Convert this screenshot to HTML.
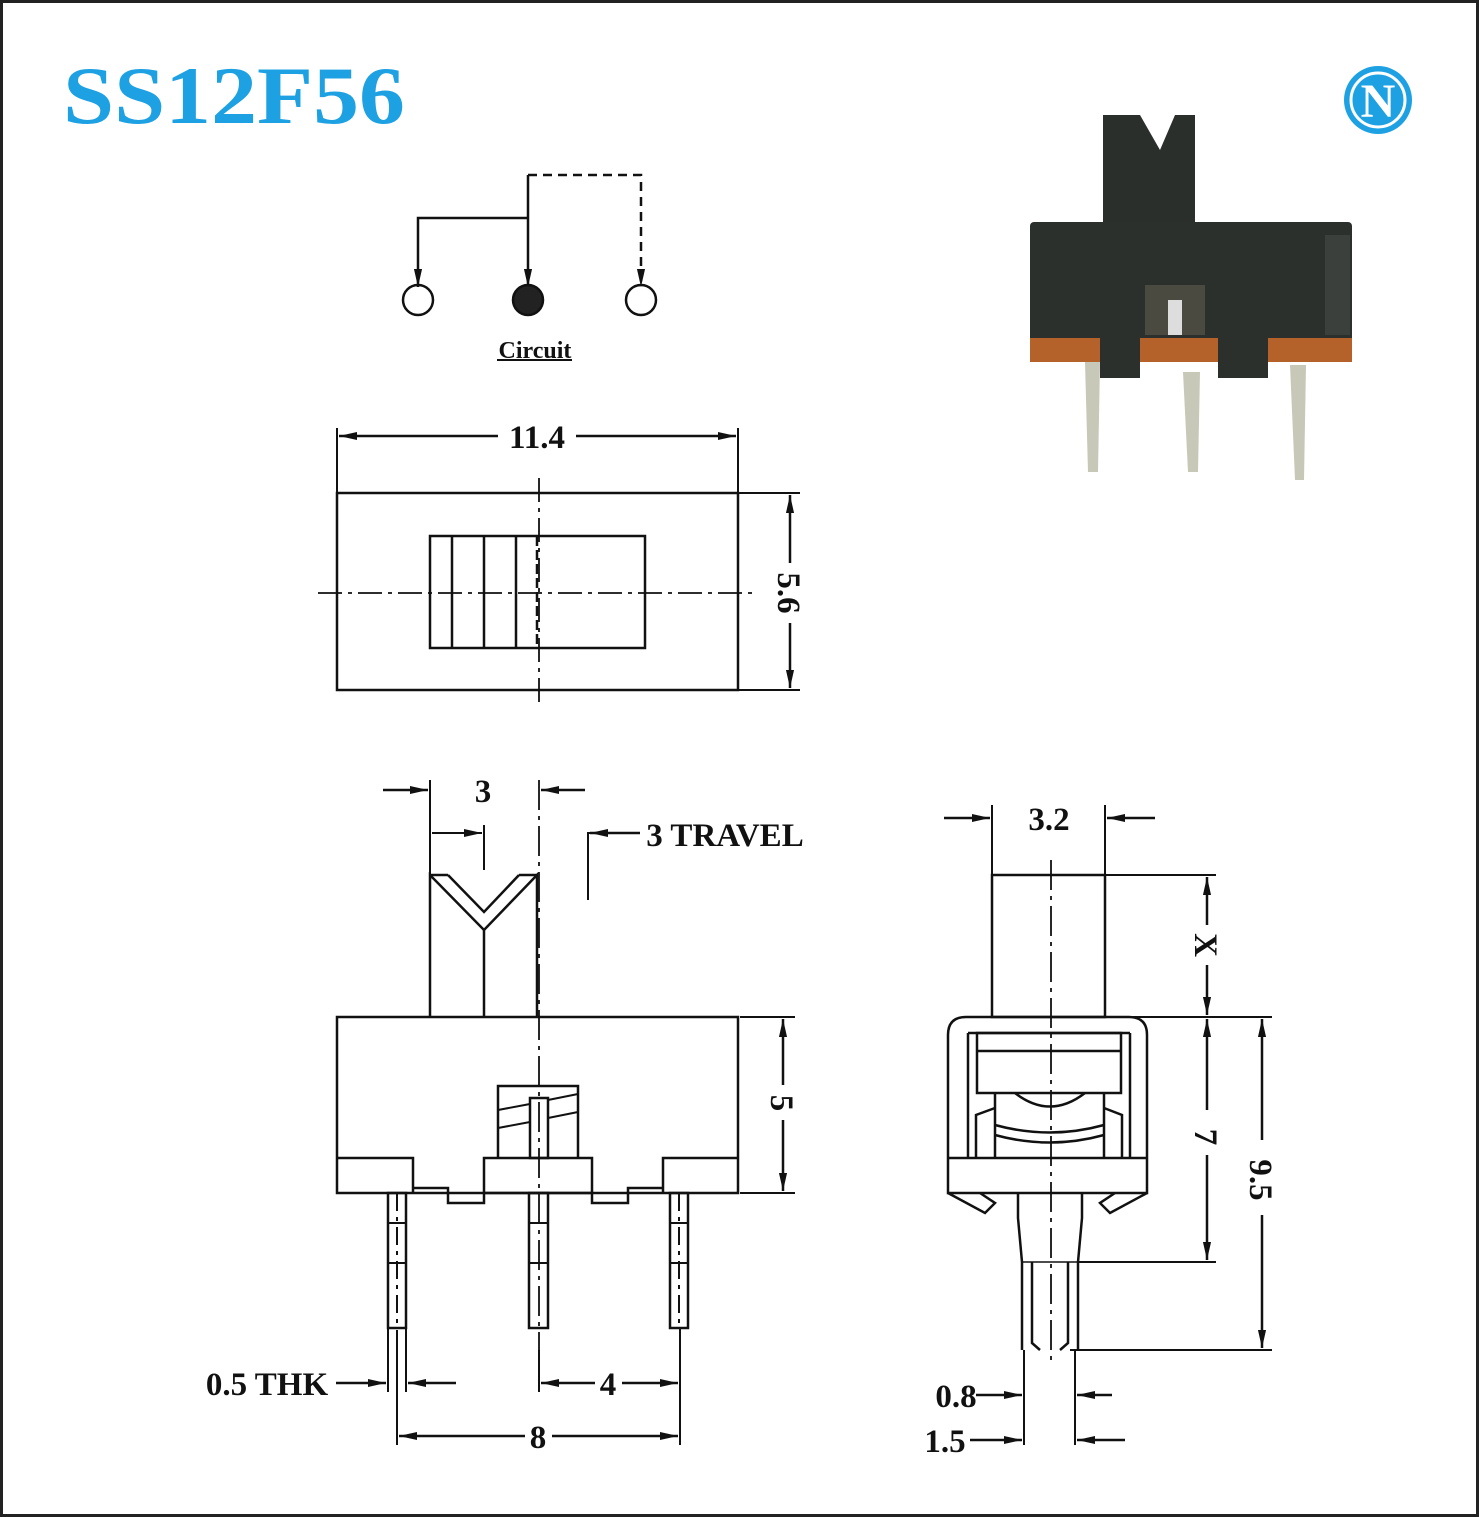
<!DOCTYPE html>
<html><head><meta charset="utf-8"><style>
html,body{margin:0;padding:0;background:#fff}
svg{display:block}
text{font-family:"Liberation Serif",serif}
</style></head><body>
<svg width="1479" height="1517" viewBox="0 0 1479 1517" xmlns="http://www.w3.org/2000/svg">
<defs>
<marker id="a" viewBox="0 0 20 10" refX="20" refY="5" markerWidth="22" markerHeight="9" markerUnits="userSpaceOnUse" orient="auto-start-reverse"><path d="M0,0.5 L20,5 L0,9.5 z" fill="#111"/></marker>
</defs>
<rect x="1.5" y="1.5" width="1476" height="1514" fill="#fff" stroke="#222" stroke-width="3"/>
<text x="63" y="123" font-size="82" font-weight="bold" fill="#1ea1e2" textLength="342" lengthAdjust="spacingAndGlyphs">SS12F56</text>
<circle cx="1378" cy="100" r="34" fill="#1ea1e2"/>
<circle cx="1378" cy="100" r="27" fill="none" stroke="#fff" stroke-width="3"/>
<text x="1378" y="117" font-size="48" font-weight="bold" fill="#fff" text-anchor="middle">N</text>

<g stroke="#111" stroke-width="2.5" fill="none">
<!-- circuit -->
<polyline points="418,287 418,218 528,218" marker-start="url(#a)"/>
<line x1="528" y1="175" x2="528" y2="287" marker-end="url(#a)"/>
<polyline points="528,175 641,175 641,287" stroke-dasharray="9,6" marker-end="url(#a)"/>
<circle cx="418" cy="300" r="15"/>
<circle cx="528" cy="300" r="15" fill="#222"/>
<circle cx="641" cy="300" r="15"/>
<line x1="497" y1="360" x2="572" y2="360" stroke-width="2"/>

<!-- top view -->
<rect x="337" y="493" width="401" height="197"/>
<rect x="430" y="536" width="215" height="112"/>
<line x1="452" y1="536" x2="452" y2="648"/>
<line x1="484" y1="536" x2="484" y2="648"/>
<line x1="516" y1="536" x2="516" y2="648"/>
<line x1="537" y1="536" x2="537" y2="648" stroke-dasharray="10,4"/>
<line x1="318" y1="593" x2="756" y2="593" stroke-width="1.8" stroke-dasharray="24,6,4,6"/>
<line x1="539" y1="478" x2="539" y2="705" stroke-width="1.8" stroke-dasharray="24,6,4,6"/>
<line x1="337" y1="428" x2="337" y2="493" stroke-width="2"/>
<line x1="738" y1="428" x2="738" y2="493" stroke-width="2"/>
<line x1="498" y1="436" x2="339" y2="436" marker-end="url(#a)"/>
<line x1="576" y1="436" x2="736" y2="436" marker-end="url(#a)"/>
<line x1="738" y1="493" x2="800" y2="493" stroke-width="2"/>
<line x1="738" y1="690" x2="800" y2="690" stroke-width="2"/>
<line x1="790" y1="563" x2="790" y2="495" marker-end="url(#a)"/>
<line x1="790" y1="623" x2="790" y2="688" marker-end="url(#a)"/>

<!-- front view -->
<rect x="337" y="1017" width="401" height="176"/>
<polyline points="430,1017 430,875 484,930 537,875 537,1017"/>
<polyline points="448,875 484,912 519,875"/>
<line x1="430" y1="875" x2="448" y2="875"/><line x1="519" y1="875" x2="537" y2="875"/>
<line x1="484" y1="930" x2="484" y2="1017"/>
<polyline points="337,1158 413,1158 413,1193"/>
<polyline points="738,1158 663,1158 663,1193"/>
<rect x="484" y="1158" width="108" height="35"/>
<polyline points="413,1188 448,1188 448,1203 484,1203 484,1193"/>
<polyline points="592,1193 592,1203 628,1203 628,1188 663,1188"/>
<polyline points="498,1158 498,1086 578,1086 578,1158"/>
<rect x="530" y="1098" width="18" height="60"/>
<line x1="498" y1="1110" x2="530" y2="1104" stroke-width="2"/><line x1="548" y1="1100" x2="578" y2="1094" stroke-width="2"/>
<line x1="498" y1="1128" x2="530" y2="1122" stroke-width="2"/><line x1="548" y1="1118" x2="578" y2="1112" stroke-width="2"/>
<rect x="388" y="1193" width="18" height="135"/>
<rect x="529" y="1193" width="19" height="135"/>
<rect x="670" y="1193" width="18" height="135"/>
<g stroke-width="2"><line x1="388" y1="1223" x2="406" y2="1223"/><line x1="388" y1="1263" x2="406" y2="1263"/>
<line x1="529" y1="1223" x2="548" y2="1223"/><line x1="529" y1="1263" x2="548" y2="1263"/>
<line x1="670" y1="1223" x2="688" y2="1223"/><line x1="670" y1="1263" x2="688" y2="1263"/>
<line x1="397" y1="1193" x2="397" y2="1328" stroke-dasharray="18,6,4,6"/>
<line x1="679" y1="1193" x2="679" y2="1328" stroke-dasharray="18,6,4,6"/></g>
<line x1="539" y1="780" x2="539" y2="1350" stroke-width="1.8" stroke-dasharray="30,6,4,6"/>
<line x1="430" y1="780" x2="430" y2="875" stroke-width="2"/>
<line x1="383" y1="790" x2="428" y2="790" marker-end="url(#a)"/>
<line x1="585" y1="790" x2="541" y2="790" marker-end="url(#a)"/>
<line x1="432" y1="833" x2="482" y2="833" stroke-width="2" marker-end="url(#a)"/>
<line x1="484" y1="825" x2="484" y2="870" stroke-width="2"/>
<polyline points="588,900 588,833 640,833" stroke-width="2"/>
<line x1="640" y1="833" x2="590" y2="833" marker-end="url(#a)"/>
<line x1="740" y1="1017" x2="795" y2="1017" stroke-width="2"/>
<line x1="740" y1="1193" x2="795" y2="1193" stroke-width="2"/>
<line x1="783" y1="1085" x2="783" y2="1019" marker-end="url(#a)"/>
<line x1="783" y1="1120" x2="783" y2="1191" marker-end="url(#a)"/>
<g stroke-width="2">
<line x1="388" y1="1328" x2="388" y2="1392"/><line x1="406" y1="1328" x2="406" y2="1392"/>
<line x1="397" y1="1330" x2="397" y2="1445"/><line x1="680" y1="1328" x2="680" y2="1445"/>
<line x1="539" y1="1350" x2="539" y2="1392"/></g>
<line x1="336" y1="1383" x2="386" y2="1383" marker-end="url(#a)"/>
<line x1="456" y1="1383" x2="408" y2="1383" marker-end="url(#a)"/>
<line x1="595" y1="1383" x2="541" y2="1383" marker-end="url(#a)"/>
<line x1="622" y1="1383" x2="678" y2="1383" marker-end="url(#a)"/>
<line x1="525" y1="1436" x2="399" y2="1436" marker-end="url(#a)"/>
<line x1="552" y1="1436" x2="678" y2="1436" marker-end="url(#a)"/>

<!-- side view -->
<rect x="992" y="875" width="113" height="142"/>
<path d="M966,1017 H1129 Q1147,1017 1147,1035 V1193 H948 V1035 Q948,1017 966,1017 Z"/>
<line x1="948" y1="1158" x2="1147" y2="1158"/>
<line x1="968" y1="1033" x2="968" y2="1158"/><line x1="1130" y1="1033" x2="1130" y2="1158"/>
<line x1="968" y1="1033" x2="1130" y2="1033"/>
<rect x="977" y="1033" width="144" height="60"/>
<line x1="977" y1="1051" x2="1121" y2="1051"/>
<line x1="995" y1="1093" x2="995" y2="1158"/><line x1="1104" y1="1093" x2="1104" y2="1158"/>
<polyline points="976,1158 976,1115 995,1108"/><polyline points="1122,1158 1122,1115 1104,1108"/>
<path d="M1015,1093 Q1050,1120 1085,1093"/>
<path d="M995,1125 Q1050,1140 1104,1125"/>
<path d="M995,1135 Q1050,1150 1104,1135"/>
<polyline points="948,1193 985,1213 995,1203 980,1193"/>
<polyline points="1147,1193 1110,1213 1100,1203 1115,1193"/>
<polyline points="1018,1193 1018,1218 1022,1262 1022,1350"/>
<polyline points="1082,1193 1082,1218 1078,1262 1078,1350"/>
<polyline points="1032,1262 1032,1343 1040,1350"/>
<polyline points="1068,1262 1068,1343 1060,1350"/>
<line x1="1022" y1="1262" x2="1078" y2="1262" stroke-width="1.5"/>
<line x1="1051" y1="860" x2="1051" y2="1360" stroke-width="1.8" stroke-dasharray="30,6,4,6"/>
<line x1="992" y1="805" x2="992" y2="875" stroke-width="2"/><line x1="1105" y1="805" x2="1105" y2="875" stroke-width="2"/>
<line x1="944" y1="818" x2="990" y2="818" marker-end="url(#a)"/>
<line x1="1155" y1="818" x2="1107" y2="818" marker-end="url(#a)"/>
<line x1="1105" y1="875" x2="1216" y2="875" stroke-width="2"/>
<line x1="1130" y1="1017" x2="1272" y2="1017" stroke-width="2"/>
<line x1="1078" y1="1262" x2="1216" y2="1262" stroke-width="2"/>
<line x1="1070" y1="1350" x2="1272" y2="1350" stroke-width="2"/>
<line x1="1207" y1="925" x2="1207" y2="877" marker-end="url(#a)"/>
<line x1="1207" y1="965" x2="1207" y2="1015" marker-end="url(#a)"/>
<line x1="1207" y1="1110" x2="1207" y2="1019" marker-end="url(#a)"/>
<line x1="1207" y1="1155" x2="1207" y2="1260" marker-end="url(#a)"/>
<line x1="1262" y1="1140" x2="1262" y2="1019" marker-end="url(#a)"/>
<line x1="1262" y1="1215" x2="1262" y2="1348" marker-end="url(#a)"/>
<g stroke-width="2"><line x1="1024" y1="1350" x2="1024" y2="1445"/><line x1="1075" y1="1350" x2="1075" y2="1445"/></g>
<line x1="976" y1="1395" x2="1022" y2="1395" marker-end="url(#a)"/>
<line x1="1112" y1="1395" x2="1077" y2="1395" marker-end="url(#a)"/>
<line x1="970" y1="1440" x2="1022" y2="1440" marker-end="url(#a)"/>
<line x1="1125" y1="1440" x2="1077" y2="1440" marker-end="url(#a)"/>
</g>

<g fill="#111" font-size="33" font-weight="bold" text-anchor="middle">
<text x="535" y="358" font-size="24">Circuit</text>
<text x="537" y="448">11.4</text>
<text x="483" y="802">3</text>
<text x="725" y="846">3  TRAVEL</text>
<text x="608" y="1395">4</text>
<text x="538" y="1448">8</text>
<text x="267" y="1395">0.5  THK</text>
<text x="1049" y="830">3.2</text>
<text x="956" y="1407">0.8</text>
<text x="945" y="1452">1.5</text>
<text transform="translate(790,593) rotate(90)" y="12">5.6</text>
<text transform="translate(783,1103) rotate(90)" y="12">5</text>
<text transform="translate(1207,945) rotate(90)" y="12">X</text>
<text transform="translate(1207,1137) rotate(90)" y="12">7</text>
<text transform="translate(1262,1180) rotate(90)" y="12">9.5</text>
</g>

<!-- photo -->
<g>
<path d="M1103,115 H1140 L1160,150 L1175,115 H1195 V230 H1103 Z" fill="#2b2f2c"/>
<rect x="1030" y="222" width="322" height="125" rx="4" fill="#2c302d"/>
<rect x="1325" y="235" width="25" height="100" fill="#3b403c"/>
<rect x="1030" y="338" width="322" height="24" fill="#b4622a"/>
<rect x="1100" y="338" width="40" height="40" fill="#2c302d"/>
<rect x="1218" y="338" width="50" height="40" fill="#2c302d"/>
<rect x="1145" y="285" width="60" height="50" fill="#4a4a40"/>
<rect x="1168" y="300" width="14" height="35" fill="#ddd"/>
<polygon points="1085,362 1100,362 1098,472 1088,472" fill="#c8c8b8"/>
<polygon points="1183,372 1200,372 1198,472 1188,472" fill="#c8c8b8"/>
<polygon points="1290,365 1306,365 1304,480 1295,480" fill="#c8c8b8"/>
</g>
</svg>
</body></html>
